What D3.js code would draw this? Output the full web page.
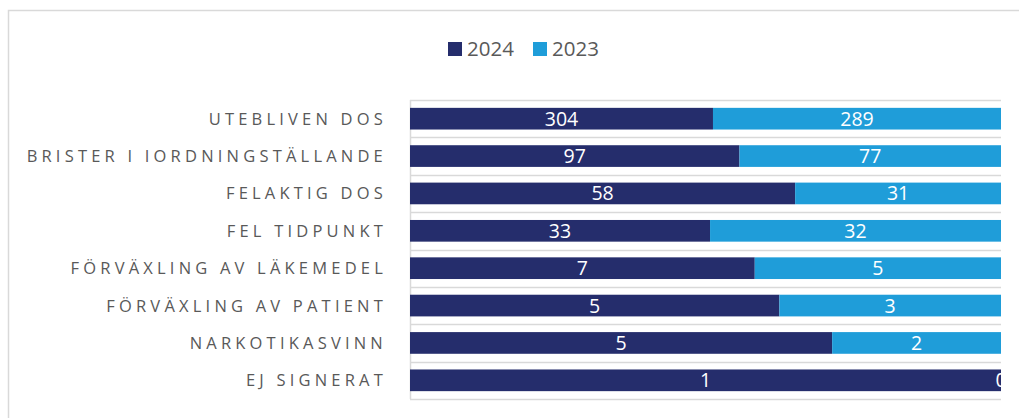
<!DOCTYPE html>
<html>
<head>
<meta charset="utf-8">
<script src="https://cdn.jsdelivr.net/npm/d3@7"></script>
<style>
  body { margin: 0; background: #fff; }
  svg { display: block; }
</style>
</head>
<body>
<div id="chart"></div>
<script>
// data
const categories = ["UTEBLIVEN DOS", "BRISTER I IORDNINGSTÄLLANDE", "FELAKTIG DOS", "FEL TIDPUNKT",
  "FÖRVÄXLING AV LÄKEMEDEL", "FÖRVÄXLING AV PATIENT", "NARKOTIKASVINN", "EJ SIGNERAT"];
const values2024 = [304, 97, 58, 33, 7, 5, 5, 1];
const values2023 = [289, 77, 31, 32, 5, 3, 2, 0];
const seriesNames = ["2024", "2023"];
const seriesColors = ["#252d6c", "#1f9dd9"];

const W = 1019, H = 418;
const margin = { top: 100, right: 18, bottom: 19, left: 410 };
const width = W - margin.left - margin.right;
const height = H - margin.top - margin.bottom;

const svg = d3.select("#chart").append("svg")
  .attr("width", W).attr("height", H);

// chart frame
svg.append("rect")
  .attr("x", 8.5).attr("y", 10.5)
  .attr("width", W + 20).attr("height", H + 20)
  .attr("fill", "none").attr("stroke", "#d9d9d9").attr("stroke-width", 1.5);

const g = svg.append("g").attr("transform", `translate(${margin.left},${margin.top})`);

const rows = categories.map((c, i) => {
  const tot = values2024[i] + values2023[i];
  return { cat: c, v: [values2024[i], values2023[i]], p: [values2024[i] / tot, values2023[i] / tot] };
});

const y = d3.scaleBand().domain(categories).range([0, height]).paddingInner(0.42).paddingOuter(0.21);
const x = d3.scaleLinear().domain([0, 1]).range([0, width]);

// grid lines between categories
const step = y.step();
g.selectAll(".grid").data(d3.range(categories.length + 1))
  .join("line")
  .attr("x1", 0).attr("x2", width)
  .attr("y1", d => Math.round(d * step) + 0.5).attr("y2", d => Math.round(d * step) + 0.5)
  .attr("stroke", "#d9d9d9").attr("stroke-width", 1.5);

// left axis
g.append("line").attr("x1", 0.5).attr("x2", 0.5).attr("y1", 0).attr("y2", height)
  .attr("stroke", "#d9d9d9").attr("stroke-width", 1.5);

svg.append("clipPath").attr("id", "plotclip")
  .append("rect").attr("x", 0).attr("y", -5).attr("width", width + 1).attr("height", height + 10);

const rowG = g.selectAll(".row").data(rows).join("g")
  .attr("transform", d => `translate(0,${y(d.cat)})`);

rowG.each(function(d) {
  const sel = d3.select(this);
  let acc = 0;
  d.p.forEach((p, k) => {
    const x0 = x(acc), x1 = x(acc + p);
    sel.append("rect")
      .attr("x", x0).attr("y", 0)
      .attr("width", Math.max(0, x1 - x0)).attr("height", y.bandwidth())
      .attr("fill", seriesColors[k]);
    sel.append("text")
      .attr("clip-path", "url(#plotclip)")
      .attr("x", (x0 + x1) / 2).attr("y", y.bandwidth() / 2)
      .attr("dy", "0.36em")
      .attr("text-anchor", "middle")
      .style("font-family", "'Open Sans', sans-serif")
      .style("font-size", "19.5px")
      .style("fill", "#fff")
      .text(d.v[k]);
    acc += p;
  });
});

// category labels
g.selectAll(".cat").data(categories).join("text")
  .attr("x", -23).attr("y", d => y(d) + y.bandwidth() / 2)
  .attr("dy", "0.36em")
  .attr("text-anchor", "end")
  .style("font-family", "'Open Sans', sans-serif")
  .style("font-size", "16.5px")
  .style("letter-spacing", "4.2px")
  .style("fill", "#595959")
  .text(d => d);

// legend
const legend = svg.append("g").attr("transform", "translate(448,49)");
const legX = [0, 85];
seriesNames.forEach((s, k) => {
  legend.append("rect").attr("x", legX[k]).attr("y", -7).attr("width", 14).attr("height", 14)
    .attr("fill", seriesColors[k]);
  legend.append("text").attr("x", legX[k] + 19).attr("y", 0).attr("dy", "0.36em")
    .style("font-family", "'Open Sans', sans-serif")
    .style("font-size", "20.5px")
    .style("fill", "#595959")
    .text(s);
});
</script>
</body>
</html>
